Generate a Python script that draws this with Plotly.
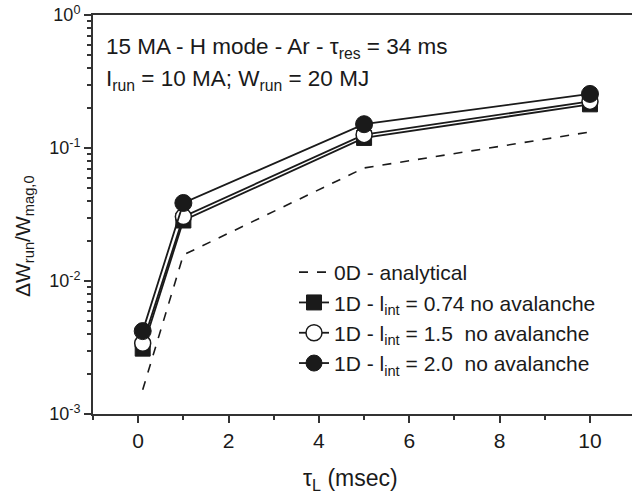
import plotly.graph_objects as go

tau = [0.1, 1, 5, 10]
analytical = [0.00152, 0.0157, 0.0708, 0.132]
lint_074 = [0.0031, 0.0285, 0.119, 0.213]
lint_15 = [0.0034, 0.0305, 0.126, 0.224]
lint_20 = [0.0042, 0.0386, 0.151, 0.255]

ytickvals = [0.001, 0.01, 0.1, 1]
yticktext = ["10<sup>-3</sup>", "10<sup>-2</sup>", "10<sup>-1</sup>", "10<sup>0</sup>"]

FONT = "Liberation Sans, Arial, sans-serif"
INK = "#1a1a1a"
AX = "#333333"

fig = go.Figure()
fig.add_trace(go.Scatter(x=tau, y=analytical, mode="lines", name="0D - analytical",
                         line=dict(color=INK, width=1.6, dash="dash")))
fig.add_trace(go.Scatter(x=tau, y=lint_074, mode="lines+markers",
                         name="1D - l<sub>int</sub> = 0.74 no avalanche",
                         line=dict(color=INK, width=1.8),
                         marker=dict(symbol="square", size=15, color=INK, line=dict(color=INK, width=1))))
fig.add_trace(go.Scatter(x=tau, y=lint_15, mode="lines+markers",
                         name="1D - l<sub>int</sub> = 1.5\u00a0\u00a0no avalanche",
                         line=dict(color=INK, width=1.8),
                         marker=dict(symbol="circle", size=16, color="white", line=dict(color=INK, width=1.5))))
fig.add_trace(go.Scatter(x=tau, y=lint_20, mode="lines+markers",
                         name="1D - l<sub>int</sub> = 2.0\u00a0\u00a0no avalanche",
                         line=dict(color=INK, width=1.8),
                         marker=dict(symbol="circle", size=17, color=INK, line=dict(color=INK, width=1))))

minor_y = [m * 10 ** e for e in (-3, -2, -1) for m in range(2, 10)]

fig.update_layout(
    width=632, height=497,
    margin=dict(l=93, r=0, t=15, b=83),
    plot_bgcolor="white", paper_bgcolor="white",
    font=dict(family=FONT, size=18, color=INK),
    showlegend=True,
    legend=dict(x=(294 - 93) / 539, y=1 - (252 - 15) / 399, xanchor="left", yanchor="top",
                bgcolor="rgba(0,0,0,0)", font=dict(size=21, color=INK),
                tracegroupgap=0, itemwidth=30),
    xaxis=dict(range=[-1, 10.93], dtick=2, tick0=0, showgrid=False, zeroline=False,
               showline=True, linecolor=AX, linewidth=2, mirror=True,
               ticks="outside", ticklen=7, tickwidth=1.5, tickcolor=AX,
               tickfont=dict(size=21, color=INK),
               minor=dict(dtick=1, tick0=0, ticks="outside", ticklen=4, tickcolor=AX, tickwidth=1.5)),
    yaxis=dict(type="log", range=[-3, 0], tickvals=ytickvals, ticktext=yticktext,
               showgrid=False, zeroline=False, showline=True, linecolor=AX, linewidth=2,
               ticks="outside", ticklen=7, tickwidth=1.5, tickcolor=AX,
               tickfont=dict(size=18, color=INK),
               minor=dict(tickvals=minor_y, ticks="outside", ticklen=4, tickcolor=AX, tickwidth=1.5)),
)

fig.add_annotation(text="15 MA - H mode - Ar - \u03c4<sub>res</sub> = 34 ms", xref="paper", yref="paper",
                   x=(104 - 93) / 539, y=1 - (48 - 15) / 399, xanchor="left", yanchor="middle",
                   showarrow=False, font=dict(size=22.5, color=INK))
fig.add_annotation(text="I<sub>run</sub> = 10 MA; W<sub>run</sub> = 20 MJ", xref="paper", yref="paper",
                   x=(104 - 93) / 539, y=1 - (80 - 15) / 399, xanchor="left", yanchor="middle",
                   showarrow=False, font=dict(size=22.5, color=INK))
fig.add_annotation(text="\u0394W<sub>run</sub>/W<sub>mag,0</sub>", xref="paper", yref="paper",
                   x=(24 - 93) / 539, y=1 - (236 - 15) / 399, xanchor="center", yanchor="middle",
                   textangle=-90, showarrow=False, font=dict(size=21, color=INK))
fig.add_annotation(text="\u03c4<sub>L</sub> (msec)", xref="paper", yref="paper",
                   x=(350 - 93) / 539, y=-(479 - 414) / 399, xanchor="center", yanchor="middle",
                   showarrow=False, font=dict(size=23, color=INK))

fig.write_html("out.html")
